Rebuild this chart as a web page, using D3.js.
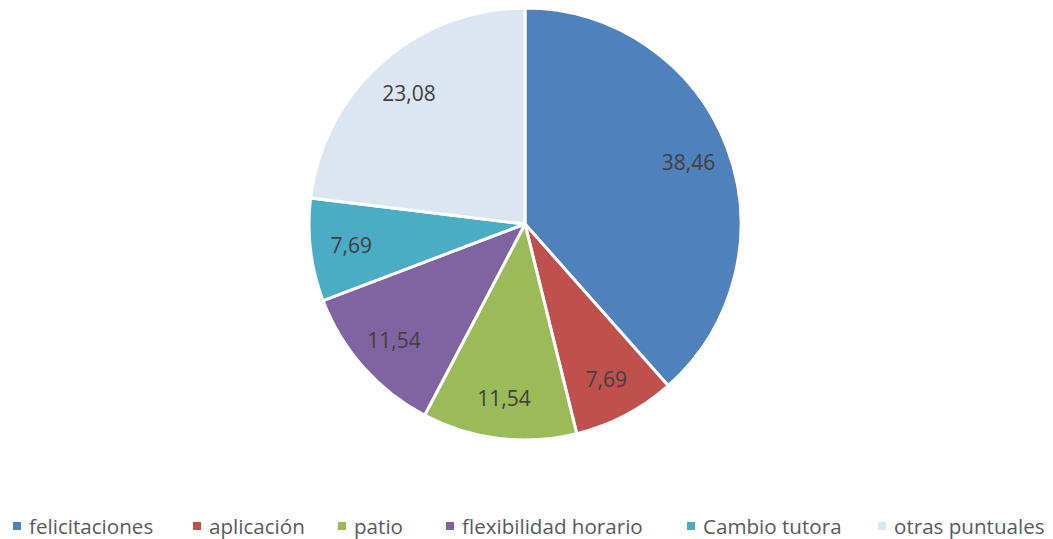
<!DOCTYPE html>
<html><head><meta charset="utf-8">
<script src="https://cdn.jsdelivr.net/npm/d3@7"></script>
<style>body{margin:0;background:#fff}svg{display:block}</style>
</head><body>
<svg id="c" width="1053" height="539"></svg>
<script>
const categories = ["felicitaciones","aplicación","patio","flexibilidad horario","Cambio tutora","otras puntuales"];
const values = [38.46, 7.69, 11.54, 11.54, 7.69, 23.08];
const labels = ["38,46","7,69","11,54","11,54","7,69","23,08"];
const colors = ["#4F81BD","#C0504D","#9BBB59","#8064A2","#4BACC6","#DCE6F2"];

const svg = d3.select("#c");
const cx = 525, cy = 224, R = 216;
const font = "'Open Sans', sans-serif";
const pie = d3.pie().sort(null).value(d => d)(values);
const arc = d3.arc().innerRadius(0).outerRadius(R);
const labelArc = d3.arc().innerRadius(R*0.81).outerRadius(R*0.81);
const g = svg.append("g").attr("transform", `translate(${cx},${cy})`);
g.selectAll("path").data(pie).join("path")
  .attr("d", arc).attr("fill", (d,i) => colors[i])
  .attr("stroke", "#fff").attr("stroke-width", 3).attr("stroke-linejoin","round");
g.selectAll("text").data(pie).join("text")
  .attr("transform", d => `translate(${labelArc.centroid(d)})`)
  .attr("text-anchor","middle").attr("dominant-baseline","central")
  .attr("font-family", font).attr("font-size", 21).attr("fill","#404040")
  .text((d,i) => labels[i]);

const legX = [13, 193, 338, 446, 687, 878];
const lg = svg.append("g");
categories.forEach((c,i) => {
  lg.append("rect").attr("x", legX[i]).attr("y", 522).attr("width", 8).attr("height", 8).attr("fill", colors[i]);
  lg.append("text").attr("x", legX[i] + 16).attr("y", 526)
    .attr("dominant-baseline","central")
    .attr("font-family", font).attr("font-size", 20.6).attr("fill","#595959").text(c);
});
</script>
</body></html>
